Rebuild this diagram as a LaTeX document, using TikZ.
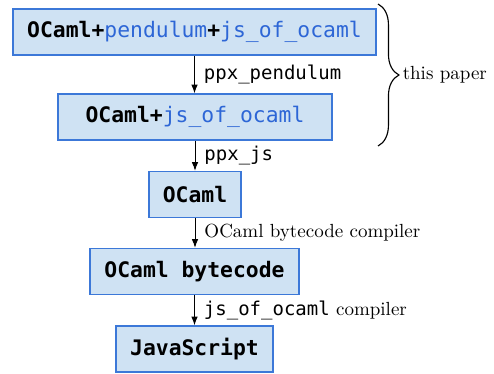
\documentclass[tikz,border=0pt]{standalone}
\usepackage{fontspec}
\setmonofont{DejaVu Sans Mono}
\usetikzlibrary{decorations.pathreplacing,arrows.meta}
\definecolor{boxfill}{HTML}{CFE2F3}
\definecolor{boxdraw}{HTML}{3C78D8}
\definecolor{codeblue}{HTML}{2D66D6}
\begin{document}
\begin{tikzpicture}[x=0.5263pt,y=-0.5263pt,
  stagebox/.style={draw=boxdraw,fill=boxfill,line width=0.8pt,minimum height=24.2pt,inner sep=0pt,font=\fontsize{11.25}{13}\selectfont\ttfamily\bfseries},
  flow/.style={-{Latex[length=4.5pt,width=3.4pt]},line width=0.5pt},
  lbl/.style={midway,right,xshift=1.4pt,font=\fontsize{10}{12}\selectfont}]
\useasboundingbox (0,0) rectangle (494,373);
\node[stagebox,minimum width=191pt] (a) at (194.5,32) {OCaml+\textcolor{codeblue}{\mdseries pendulum}+\textcolor{codeblue}{\mdseries js\_of\_ocaml}};
\node[stagebox,minimum width=144.2pt] (b) at (195,117) {OCaml+\textcolor{codeblue}{\mdseries js\_of\_ocaml}};
\node[stagebox,minimum width=48.4pt] (c) at (195,194.5) {OCaml};
\node[stagebox,minimum width=110pt] (d) at (194.5,271.5) {OCaml bytecode};
\node[stagebox,minimum width=82.6pt] (e) at (194.5,349) {JavaScript};
\draw[flow] (a.south) -- (a.south |- b.north) node[lbl] {\ttfamily ppx\_pendulum};
\draw[flow] (b.south) -- (b.south |- c.north) node[lbl] {\ttfamily ppx\_js};
\draw[flow] (c.south) -- (c.south |- d.north) node[lbl] {OCaml bytecode compiler};
\draw[flow] (d.south) -- (d.south |- e.north) node[lbl] {\ttfamily js\_of\_ocaml\rmfamily{} compiler};
\coordinate (bt) at (378,4);
\coordinate (bb) at (378,146);
\draw[decorate,decoration={brace,amplitude=11pt},line width=0.6pt] (bt) -- (bb);
\node[anchor=west,inner sep=1pt,font=\fontsize{10}{12}\selectfont] (tp) at (400.5,75) {this paper};
\end{tikzpicture}
\end{document}
